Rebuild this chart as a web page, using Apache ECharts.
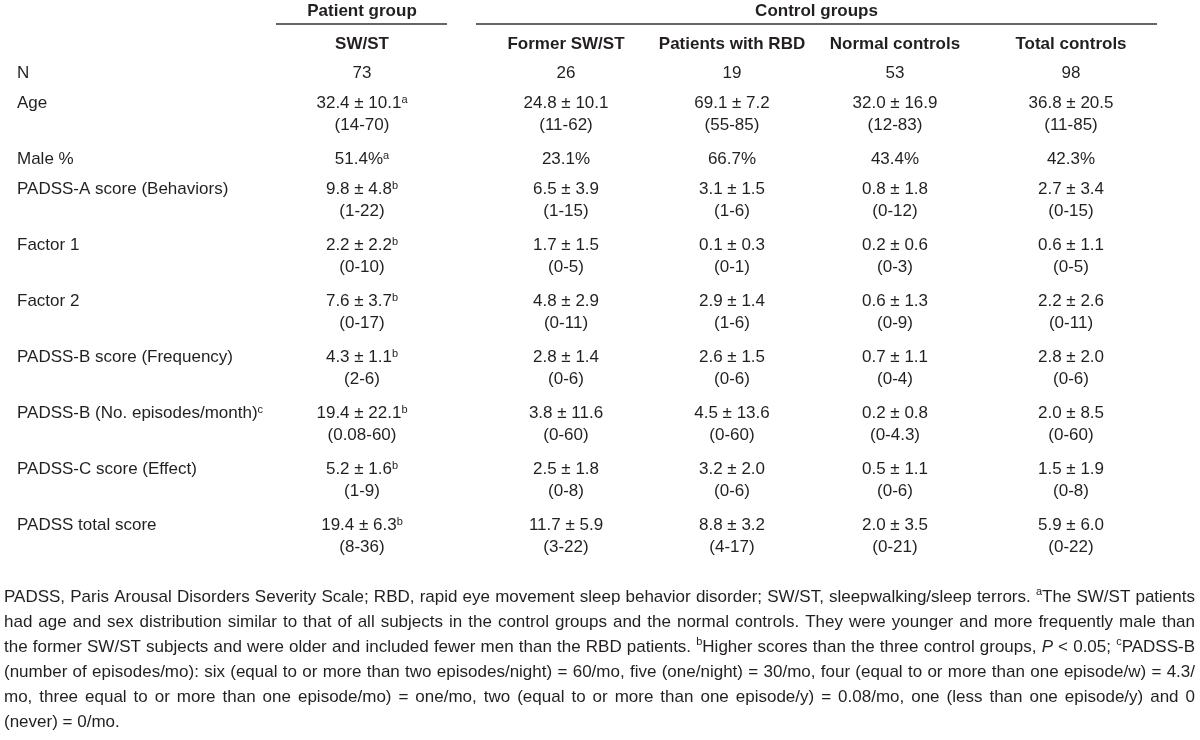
<!DOCTYPE html>
<html>
<head>
<meta charset="utf-8">
<script src="https://cdn.jsdelivr.net/npm/echarts@6/dist/echarts.min.js"></script>
<style>
  html, body { margin: 0; background: #fff; }
  #chart { width: 1200px; height: 740px; }
</style>
</head>
<body>
<div id="chart"></div>
<script>
// table content
const rowLabels = ['N', 'Age', 'Male %', 'PADSS-A score (Behaviors)', 'Factor 1', 'Factor 2',
  'PADSS-B score (Frequency)', 'PADSS-B (No. episodes/month)', 'PADSS-C score (Effect)', 'PADSS total score'];
const rowLabelNotes = ['', '', '', '', '', '', '', 'c', '', ''];

const groupHeaders = ['Patient group', 'Control groups'];
const columnNames = ['SW/ST', 'Former SW/ST', 'Patients with RBD', 'Normal controls', 'Total controls'];

const swstValues = ['73', '32.4 ± 10.1', '51.4%', '9.8 ± 4.8', '2.2 ± 2.2', '7.6 ± 3.7', '4.3 ± 1.1', '19.4 ± 22.1', '5.2 ± 1.6', '19.4 ± 6.3'];
const swstRanges = ['', '(14-70)', '', '(1-22)', '(0-10)', '(0-17)', '(2-6)', '(0.08-60)', '(1-9)', '(8-36)'];
const swstNotes = ['', 'a', 'a', 'b', 'b', 'b', 'b', 'b', 'b', 'b'];

const formerValues = ['26', '24.8 ± 10.1', '23.1%', '6.5 ± 3.9', '1.7 ± 1.5', '4.8 ± 2.9', '2.8 ± 1.4', '3.8 ± 11.6', '2.5 ± 1.8', '11.7 ± 5.9'];
const formerRanges = ['', '(11-62)', '', '(1-15)', '(0-5)', '(0-11)', '(0-6)', '(0-60)', '(0-8)', '(3-22)'];

const rbdValues = ['19', '69.1 ± 7.2', '66.7%', '3.1 ± 1.5', '0.1 ± 0.3', '2.9 ± 1.4', '2.6 ± 1.5', '4.5 ± 13.6', '3.2 ± 2.0', '8.8 ± 3.2'];
const rbdRanges = ['', '(55-85)', '', '(1-6)', '(0-1)', '(1-6)', '(0-6)', '(0-60)', '(0-6)', '(4-17)'];

const normalValues = ['53', '32.0 ± 16.9', '43.4%', '0.8 ± 1.8', '0.2 ± 0.6', '0.6 ± 1.3', '0.7 ± 1.1', '0.2 ± 0.8', '0.5 ± 1.1', '2.0 ± 3.5'];
const normalRanges = ['', '(12-83)', '', '(0-12)', '(0-3)', '(0-9)', '(0-4)', '(0-4.3)', '(0-6)', '(0-21)'];

const totalValues = ['98', '36.8 ± 20.5', '42.3%', '2.7 ± 3.4', '0.6 ± 1.1', '2.2 ± 2.6', '2.8 ± 2.0', '2.0 ± 8.5', '1.5 ± 1.9', '5.9 ± 6.0'];
const totalRanges = ['', '(11-85)', '', '(0-15)', '(0-5)', '(0-11)', '(0-6)', '(0-60)', '(0-8)', '(0-22)'];

// ^x = superscript letter, *x* = italic
const footnoteLines = [
  'PADSS, Paris Arousal Disorders Severity Scale; RBD, rapid eye movement sleep behavior disorder; SW/ST, sleepwalking/sleep terrors. ^aThe SW/ST patients',
  'had age and sex distribution similar to that of all subjects in the control groups and the normal controls. They were younger and more frequently male than',
  'the former SW/ST subjects and were older and included fewer men than the RBD patients. ^bHigher scores than the three control groups, *P* < 0.05; ^cPADSS-B',
  '(number of episodes/mo): six (equal to or more than two episodes/night) = 60/mo, five (one/night) = 30/mo, four (equal to or more than one episode/w) = 4.3/',
  'mo, three equal to or more than one episode/mo) = one/mo, two (equal to or more than one episode/y) = 0.08/mo, one (less than one episode/y) and 0',
  '(never) = 0/mo.'
];

const FONT = "'Liberation Sans', Arial, sans-serif";
const TXT = '#231f20';
const FS = 17;

// layout
const labelX = 17;
const colX = [362, 566, 732, 895, 1071];
const groupLines = [[276, 447], [476, 1157]];
const rowTop = 73;
const singlePitch = 30;
const doublePitch = 56;
const lineGap = 22;
const footTop = 597;
const footPitch = 25;
const footLeft = 4;
const footRight = 1195;

const columns = [
  { values: swstValues, ranges: swstRanges, notes: swstNotes },
  { values: formerValues, ranges: formerRanges },
  { values: rbdValues, ranges: rbdRanges },
  { values: normalValues, ranges: normalRanges },
  { values: totalValues, ranges: totalRanges }
];

const elements = [];

function addText(x, y, text, opt) {
  opt = opt || {};
  elements.push({
    type: 'text',
    x: x,
    y: y,
    silent: true,
    style: {
      text: text,
      fontFamily: FONT,
      fontSize: opt.size || FS,
      fontWeight: opt.weight || 'normal',
      fontStyle: opt.italic ? 'italic' : 'normal',
      fill: TXT,
      align: opt.align || 'left',
      verticalAlign: 'middle',
      rich: {
        s: { fontFamily: FONT, fontSize: 11, fill: TXT, verticalAlign: 'top', padding: [0, 0, 6, 0] }
      }
    }
  });
}

function withNote(text, note) {
  return note ? text + '{s|' + note + '}' : text;
}

// group headers + rules
const groupCenters = [colX[0], (groupLines[1][0] + groupLines[1][1]) / 2];
groupHeaders.forEach((h, i) => {
  addText(groupCenters[i], 11, h, { weight: 'bold', align: 'center' });
  elements.push({
    type: 'line',
    silent: true,
    shape: { x1: groupLines[i][0], y1: 24, x2: groupLines[i][1], y2: 24 },
    style: { stroke: '#333', lineWidth: 1.5 }
  });
});
columnNames.forEach((c, i) => addText(colX[i], 44, c, { weight: 'bold', align: 'center' }));

// body rows
let y = rowTop;
rowLabels.forEach((label, r) => {
  const twoLines = swstRanges[r] !== '';
  addText(labelX, y, withNote(label, rowLabelNotes[r]));
  columns.forEach((col, c) => {
    const note = col.notes ? col.notes[r] : '';
    addText(colX[c], y, withNote(col.values[r], note), { align: 'center' });
    if (col.ranges[r]) addText(colX[c], y + lineGap, col.ranges[r], { align: 'center' });
  });
  y += twoLines ? doublePitch : singlePitch;
});

// footnote, justified word by word
const ctx = document.createElement('canvas').getContext('2d');
function measure(text, size, italic) {
  ctx.font = (italic ? 'italic ' : '') + 'normal ' + size + 'px ' + FONT;
  return ctx.measureText(text).width;
}
function pieces(word, size) {
  const out = [];
  if (word[0] === '^') {
    out.push({ t: word[1], sup: true });
    word = word.slice(2);
  }
  if (word.startsWith('*')) {
    const end = word.indexOf('*', 1);
    out.push({ t: word.slice(1, end), italic: true });
    word = word.slice(end + 1);
  }
  if (word) out.push({ t: word });
  out.forEach(p => { p.w = measure(p.t, p.sup ? 11 : size, p.italic); });
  return out;
}
function naturalWidth(line, size) {
  const words = line.split(' ').map(w => pieces(w, size));
  const sum = words.reduce((s, ps) => s + ps.reduce((a, p) => a + p.w, 0), 0);
  return sum + measure(' ', size) * (words.length - 1);
}
// font size: widest justified line fits with plain spaces
const avail = footRight - footLeft;
const FN = Math.min(18, ...footnoteLines.slice(0, -1).map(l => 16 * avail / naturalWidth(l, 16))) - 0.1;

footnoteLines.forEach((line, li) => {
  const words = line.split(' ').map(w => pieces(w, FN));
  const widths = words.map(ps => ps.reduce((s, p) => s + p.w, 0));
  const natural = widths.reduce((s, w) => s + w, 0);
  const last = li === footnoteLines.length - 1;
  const gap = last ? measure(' ', FN) : (avail - natural) / (words.length - 1);
  const fy = footTop + li * footPitch;
  let x = footLeft;
  words.forEach((ps, wi) => {
    let px = x;
    ps.forEach(p => {
      if (p.sup) addText(px, fy - 5, p.t, { size: 11 });
      else addText(px, fy, p.t, { size: FN, italic: p.italic });
      px += p.w;
    });
    x += widths[wi] + gap;
  });
});

const chart = echarts.init(document.getElementById('chart'));
chart.setOption({
  backgroundColor: '#fff',
  graphic: { elements: elements }
});
window.onresize = () => chart.resize();
</script>
</body>
</html>
